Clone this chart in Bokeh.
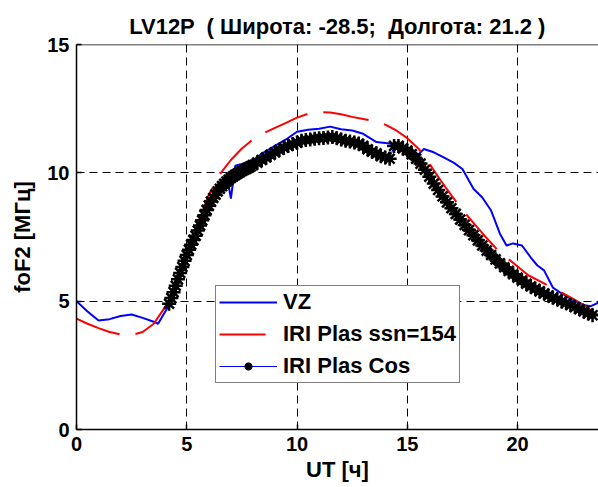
from bokeh.plotting import figure
from bokeh.models import Range1d, FixedTicker, Legend, LegendItem, Span
from bokeh.embed import file_html
from bokeh.resources import INLINE

# ---------------- data ----------------
vz_ut = [0.0, 0.5, 1.0, 1.5, 2.0, 2.5, 3.0, 3.5, 3.7, 4.2, 4.6, 5.0, 5.5, 6.0, 6.5,
         6.9, 7.0, 7.2, 7.5, 8.0, 8.5, 9.0, 9.5, 10.0, 10.5, 11.0, 11.5, 12.0, 12.5,
         13.0, 13.6, 14.3, 14.6, 15.0, 15.45, 15.75, 16.2, 16.65, 17.1, 17.5, 18.0,
         18.4, 18.8, 19.2, 19.5, 19.8, 20.2, 20.6, 20.9, 21.2, 21.6, 22.0, 22.5, 23.0,
         23.3, 23.7]
vz_fof2 = [5.0, 4.6, 4.25, 4.3, 4.42, 4.48, 4.35, 4.2, 4.12, 4.85, 5.7, 6.7, 7.8, 8.7, 9.4,
           9.5, 9.0, 10.28, 10.35, 10.5, 10.8, 11.05, 11.3, 11.6, 11.68, 11.72, 11.8, 11.7, 11.65,
           11.52, 11.2, 11.13, 11.0, 10.85, 10.67, 10.93, 10.8, 10.6, 10.4, 10.15, 9.38,
           9.04, 8.53, 7.63, 7.17, 7.25, 7.17, 6.7, 6.39, 6.2, 5.53, 5.3, 5.05, 4.85,
           4.8, 4.95]

iri_ut = [0.0, 0.5, 1.0, 1.5, 2.0, 2.5, 3.0, 3.5, 4.0, 4.5, 5.0, 5.5, 6.0, 6.5, 7.0, 7.5,
          8.0, 8.5, 9.0, 9.5, 10.0, 10.5, 11.0, 11.5, 12.0, 12.5, 13.0, 13.5, 14.0, 14.5,
          15.0, 15.5, 16.0, 16.5, 17.0, 17.5, 18.0, 18.5, 19.0, 19.5, 20.0, 20.5, 21.0,
          21.5, 22.0, 22.5, 23.0, 23.5, 24.0]
iri_fof2 = [4.32, 4.12, 3.95, 3.80, 3.70, 3.68, 3.80, 4.12, 4.75, 5.55, 6.65, 8.00, 9.15,
            9.95, 10.50, 10.95, 11.30, 11.55, 11.75, 11.95, 12.15, 12.30, 12.36, 12.35,
            12.28, 12.18, 12.10, 12.02, 11.88, 11.65, 11.35, 10.95, 10.36, 9.72, 9.12,
            8.55, 8.05, 7.55, 7.08, 6.70, 6.35, 6.00, 5.78, 5.55, 5.33, 5.10, 4.85, 4.55,
            4.35]

cos_ut = [4.2, 4.3, 4.4, 4.5, 4.6, 4.7, 4.8, 4.9, 5.0, 5.1, 5.2, 5.3, 5.4, 5.5, 5.6, 5.7,
          5.8, 5.9, 6.0, 6.1, 6.2, 6.3, 6.4, 6.5, 6.6, 6.7, 6.8, 6.9, 7.0, 7.1, 7.2, 7.3,
          7.4, 7.5, 7.6, 7.7, 7.8, 7.9,
          8.0, 8.2, 8.4, 8.6, 8.8, 9.0, 9.2, 9.4, 9.6, 9.8, 10.0, 10.2,
          10.4, 10.6, 10.8, 11.0, 11.2, 11.4, 11.6, 11.8, 12.0, 12.2, 12.4, 12.6, 12.8,
          13.0, 13.2, 13.4, 13.6, 13.8, 14.0, 14.2, 14.4, 14.6, 14.8, 15.0, 15.2, 15.4,
          15.6, 15.8, 16.0, 16.2, 16.4, 16.6, 16.8, 17.0, 17.2, 17.4, 17.6, 17.8, 18.0,
          18.2, 18.4, 18.6, 18.8, 19.0, 19.2, 19.4, 19.6, 19.8, 20.0, 20.2, 20.4, 20.6,
          20.8, 21.0, 21.2, 21.4, 21.6, 21.8, 22.0, 22.2, 22.4, 22.6, 22.8, 23.0, 23.2,
          23.4]
cos_fof2 = [4.90, 5.12, 5.35, 5.60, 5.85, 6.10, 6.33, 6.57, 6.80, 7.00, 7.20, 7.38, 7.55,
            7.75, 7.95, 8.15, 8.35, 8.55, 8.72, 8.88, 9.02, 9.15, 9.28, 9.38, 9.48, 9.57,
            9.66, 9.73, 9.80, 9.86, 9.92, 9.97, 10.02, 10.07, 10.12, 10.16, 10.20, 10.25,
            10.30, 10.40, 10.50, 10.60, 10.70,
            10.80, 10.90, 10.98, 11.05, 11.12, 11.18, 11.25, 11.28, 11.30, 11.33, 11.35,
            11.36, 11.38, 11.40, 11.35, 11.30, 11.25, 11.22, 11.18, 11.14, 11.05, 10.92,
            10.82, 10.76, 10.65, 10.60, 10.55, 11.05, 11.05, 10.95, 10.87, 10.72, 10.55,
            10.36, 10.12, 9.85, 9.58, 9.33, 9.08, 8.85, 8.62, 8.40, 8.18, 7.97, 7.77,
            7.57, 7.37, 7.17, 6.97, 6.80, 6.63, 6.47, 6.32, 6.18, 6.05, 5.92, 5.80, 5.68,
            5.57, 5.48, 5.38, 5.30, 5.22, 5.14, 5.07, 4.99, 4.92, 4.85, 4.77, 4.69, 4.60,
            4.52, 4.45]

x_ticks = [0, 5, 10, 15, 20]
y_ticks = [0, 5, 10, 15]
title_text = "LV12P \u00a0( Широта: -28.5; \u00a0Долгота: 21.2 )"
x_label = "UT [ч]"
y_label = "foF2 [МГц]"
labels = ["VZ", "IRI Plas ssn=154", "IRI Plas Cos"]

FONT = "Liberation Sans"

p = figure(width=598, height=487, output_backend="svg", toolbar_location=None,
           x_range=Range1d(0, 23.67), y_range=Range1d(0, 15),
           min_border_left=76, min_border_right=0, min_border_top=44,
           min_border_bottom=58, outline_line_color=None,
           background_fill_color="white", border_fill_color="white")

p.title.text = title_text
p.title.align = "center"
p.title.text_font = FONT
p.title.text_font_size = "22px"
p.title.text_font_style = "bold"
p.title.text_color = "black"
p.title.standoff = 12

for ax in (p.xaxis[0], p.yaxis[0]):
    ax.major_label_text_font = FONT
    ax.major_label_text_font_size = "20px"
    ax.major_label_text_font_style = "bold"
    ax.major_label_text_color = "black"
    ax.axis_label_text_font = FONT
    ax.axis_label_text_font_size = "22px"
    ax.axis_label_text_font_style = "bold"
    ax.axis_label_text_color = "black"
    ax.major_tick_in = 5
    ax.major_tick_out = 0
    ax.minor_tick_line_color = None
    ax.axis_line_width = 1.5
    ax.axis_line_color = "black"
    ax.major_tick_line_color = "black"
    ax.major_tick_line_width = 1.5

p.xaxis[0].ticker = FixedTicker(ticks=x_ticks)
p.yaxis[0].ticker = FixedTicker(ticks=y_ticks)
p.xaxis[0].axis_label = x_label
p.yaxis[0].axis_label = y_label
p.xaxis[0].major_label_standoff = 7
p.yaxis[0].major_label_standoff = 7
p.xaxis[0].axis_label_standoff = 3
p.yaxis[0].axis_label_standoff = 9

# top border of the axes box (no right border: it is cut off in the reference)
p.add_layout(Span(location=15, dimension="width", line_color="black", line_width=1.5))

for g in (p.xgrid[0], p.ygrid[0]):
    g.grid_line_color = "black"
    g.grid_line_dash = "8 5"
    g.grid_line_width = 1
p.xgrid[0].ticker = FixedTicker(ticks=x_ticks)
p.ygrid[0].ticker = FixedTicker(ticks=y_ticks)

r_vz = p.line(vz_ut, vz_fof2, line_color="#0000FF", line_width=2)
r_iri = p.line(iri_ut, iri_fof2, line_color="#FF0000", line_width=2, line_dash="46 16")
r_cos_l = p.line(cos_ut, cos_fof2, line_color="#0000FF", line_width=1)
r_cos_m = p.scatter(cos_ut, cos_fof2, marker="asterisk", size=14, line_color="black",
                    line_width=2.5)

legend = Legend(items=[LegendItem(label=labels[0], renderers=[r_vz]),
                       LegendItem(label=labels[1], renderers=[r_iri]),
                       LegendItem(label=labels[2], renderers=[r_cos_l, r_cos_m])],
                location=(139, 46), margin=0, padding=3, spacing=6,
                glyph_width=58, glyph_height=20, label_height=20, label_standoff=6,
                label_text_font=FONT, label_text_font_size="22px",
                label_text_line_height=1.0,
                label_text_font_style="bold", label_text_color="black",
                border_line_color="black", border_line_width=1.5,
                background_fill_color="white", background_fill_alpha=1.0)
p.add_layout(legend)

open("out.html", "w").write(file_html(p, INLINE))
